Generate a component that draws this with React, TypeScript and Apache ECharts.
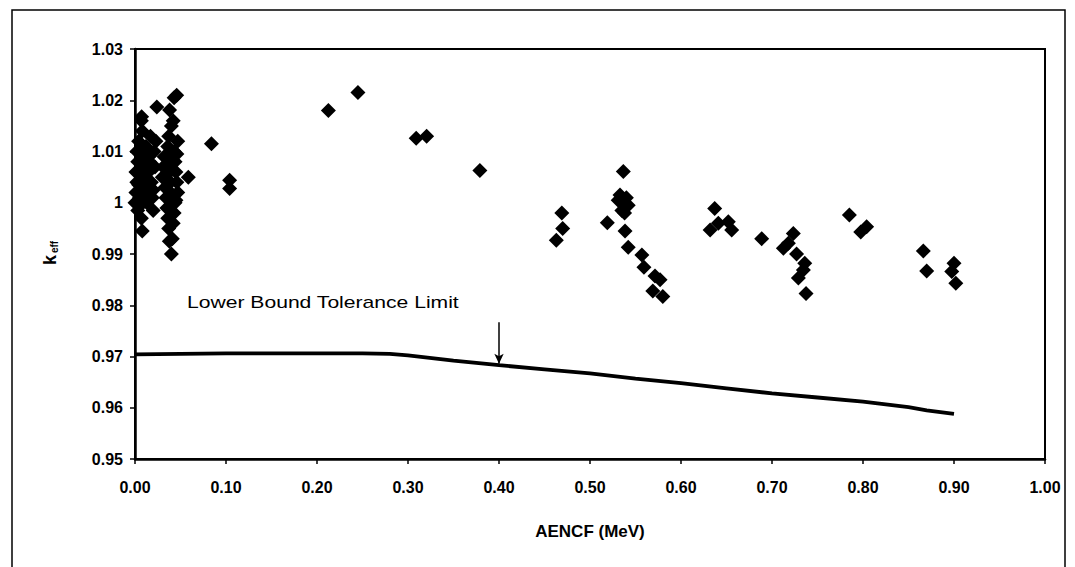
import React, { useEffect, useRef } from "react";
import * as echarts from "echarts";

// AENCF (MeV) values of the benchmark experiments
const aencf: number[] = [
  // dense cluster near 0
  0.000, 0.001, 0.002, 0.001, 0.003, 0.002, 0.004, 0.005, 0.006, 0.007, 0.008, 0.006, 0.008, 0.009,
  0.010, 0.007, 0.008, 0.011, 0.012, 0.013, 0.014, 0.015, 0.016, 0.017, 0.018, 0.019, 0.020, 0.021,
  0.022, 0.023, 0.024, 0.012, 0.004, 0.003, 0.010, 0.018, 0.020,
  0.030, 0.031, 0.032, 0.033, 0.034, 0.035, 0.036, 0.037, 0.0377, 0.040, 0.041, 0.036, 0.037, 0.038,
  0.042, 0.0458, 0.040, 0.043, 0.044, 0.045, 0.046, 0.047, 0.044, 0.043, 0.042, 0.039, 0.038, 0.041,
  0.039, 0.040, 0.041, 0.045, 0.046, 0.047, 0.035, 0.034, 0.043, 0.0073,
  0.0586, 0.084, 0.104, 0.104,
  0.2125, 0.245, 0.309, 0.3205, 0.379,
  0.463, 0.469, 0.470,
  0.519, 0.5366, 0.533, 0.537, 0.540, 0.535, 0.538, 0.531, 0.542, 0.5385, 0.542, 0.557, 0.5593,
  0.5714, 0.569, 0.580, 0.577,
  0.632, 0.637, 0.641, 0.652, 0.6557, 0.6887,
  0.7125, 0.718, 0.7234, 0.727, 0.736, 0.7345, 0.729, 0.7374,
  0.785, 0.7975, 0.804,
  0.8663, 0.870, 0.900, 0.8975, 0.902,
];

// k-eff values of the same experiments
const keff: number[] = [
  1.000, 1.002, 1.004, 1.006, 1.008, 1.010, 1.012, 1.001, 0.9995, 1.016, 1.014, 1.010, 1.007, 1.005,
  1.003, 0.997, 0.9945, 1.009, 1.011, 1.000, 1.002, 1.006, 1.008, 1.013, 1.004, 1.001, 0.9985, 1.010,
  1.007, 1.012, 1.0187, 1.0045, 1.0035, 0.9985, 1.0075, 1.0095, 1.0025,
  1.005, 1.007, 1.009, 1.003, 1.001, 0.999, 0.997, 0.995, 0.9925, 0.990, 0.993, 1.011, 1.013, 1.0181,
  1.016, 1.021, 1.015, 1.010, 1.008, 1.006, 1.004, 1.002, 1.000, 0.998, 0.996, 1.004, 1.006, 1.008,
  1.002, 1.000, 0.998, 1.0005, 1.0095, 1.012, 1.009, 1.007, 1.0205, 1.0168,
  1.005, 1.0115, 1.0044, 1.0028,
  1.018, 1.0215, 1.0126, 1.013, 1.0063,
  0.9927, 0.998, 0.995,
  0.9961, 1.0061, 1.0015, 1.000, 1.001, 0.9985, 0.998, 1.0005, 0.9995, 0.9945, 0.9913, 0.9898, 0.9874,
  0.9857, 0.9828, 0.9817, 0.985,
  0.9947, 0.9989, 0.996, 0.9963, 0.9947, 0.993,
  0.9911, 0.9921, 0.994, 0.990, 0.9882, 0.9869, 0.9853, 0.9823,
  0.9976, 0.9943, 0.9953,
  0.9906, 0.9867, 0.9882, 0.9866, 0.9843,
];

// Lower bound tolerance limit curve
const limitX: number[] = [0, 0.05, 0.1, 0.15, 0.2, 0.25, 0.28, 0.3, 0.35, 0.4, 0.45, 0.5, 0.55, 0.6, 0.65, 0.7, 0.75, 0.8, 0.85, 0.87, 0.9];
const limitY: number[] = [0.9704, 0.9705, 0.9706, 0.9706, 0.9706, 0.9706, 0.9705, 0.9702, 0.9692, 0.9683, 0.9675, 0.9667, 0.9657, 0.9648, 0.9638, 0.9628, 0.962, 0.9612, 0.9601, 0.9595, 0.9588];

// Arrow pointing at the curve
const arrowX = 0.4;
const arrowFromY = 0.9767;
const arrowToY = 0.9686;

const xTicks = { min: 0, max: 1, step: 0.1 };
const yTicks = { min: 0.95, max: 1.03, step: 0.01 };

export default function App() {
  const ref = useRef<HTMLDivElement>(null);

  useEffect(() => {
    if (!ref.current) return;
    const chart = echarts.init(ref.current, null, { renderer: "svg" });
    const font = "'Liberation Sans', Arial, sans-serif";
    chart.setOption({
      animation: false,
      backgroundColor: "#fff",
      grid: {
        left: 135,
        top: 49,
        width: 910,
        height: 410,
        show: true,
        borderColor: "#000",
        borderWidth: 2,
        containLabel: false,
      },
      xAxis: {
        type: "value",
        min: xTicks.min,
        max: xTicks.max,
        interval: xTicks.step,
        name: "AENCF (MeV)",
        nameLocation: "middle",
        nameGap: 64,
        nameTextStyle: { fontFamily: font, fontSize: 17, fontWeight: "bold", color: "#000" },
        axisLine: { show: true, lineStyle: { color: "#000", width: 2.5 } },
        axisTick: { show: true, inside: false, length: 5, lineStyle: { color: "#000", width: 1.5 } },
        axisLabel: {
          fontFamily: font,
          fontSize: 16,
          fontWeight: "bold",
          color: "#000",
          margin: 20,
          formatter: (v: number) => v.toFixed(2),
        },
        splitLine: { show: false },
      },
      yAxis: {
        type: "value",
        min: yTicks.min,
        max: yTicks.max,
        interval: yTicks.step,
        axisLine: { show: true, lineStyle: { color: "#000", width: 2.5 } },
        axisTick: { show: true, inside: false, length: 5, lineStyle: { color: "#000", width: 1.5 } },
        axisLabel: {
          fontFamily: font,
          fontSize: 16,
          fontWeight: "bold",
          color: "#000",
          margin: 12,
          formatter: (v: number) => String(Number(v.toFixed(2))),
        },
        splitLine: { show: false },
      },
      series: [
        {
          type: "line",
          data: limitX.map((x, i) => [x, limitY[i]]),
          showSymbol: false,
          symbol: "none",
          lineStyle: { color: "#000", width: 3.8 },
          z: 2,
        },
        {
          type: "scatter",
          data: aencf.map((x, i) => [x, keff[i]]),
          symbol: "diamond",
          symbolSize: 15,
          itemStyle: { color: "#000", opacity: 1 },
          z: 3,
          markLine: {
            silent: true,
            symbol: ["none", "arrow"],
            symbolSize: [7, 10],
            label: { show: false },
            lineStyle: { color: "#000", width: 1.5, type: "solid" },
            data: [[{ coord: [arrowX, arrowFromY] }, { coord: [arrowX, arrowToY] }]],
          },
        },
      ],
      graphic: [
        {
          type: "rect",
          shape: { x: 12, y: 10, width: 1053, height: 575 },
          style: { fill: "none", stroke: "#000", lineWidth: 1.5 },
          silent: true,
        },
        {
          type: "text",
          x: 187,
          y: 302,
          scaleX: 1.32,
          style: {
            text: "Lower Bound Tolerance Limit",
            fontFamily: font,
            fontSize: 16,
            fill: "#000",
            align: "left",
            verticalAlign: "middle",
          },
        },
        {
          type: "group",
          x: 50,
          y: 252,
          rotation: Math.PI / 2,
          children: [
            {
              type: "text",
              x: -8,
              y: 0,
              style: {
                text: "k",
                fontFamily: font,
                fontSize: 18,
                fontWeight: "bold",
                fill: "#000",
                align: "center",
                verticalAlign: "middle",
              },
            },
            {
              type: "text",
              x: 5,
              y: 4,
              style: {
                text: "eff",
                fontFamily: font,
                fontSize: 10,
                fontWeight: "bold",
                fill: "#000",
                align: "center",
                verticalAlign: "middle",
              },
            },
          ],
        },
      ],
    });
    return () => chart.dispose();
  }, []);

  return (
    <div
      ref={ref}
      style={{ position: "absolute", left: 0, top: 0, width: 1075, height: 567, background: "#fff" }}
    />
  );
}
